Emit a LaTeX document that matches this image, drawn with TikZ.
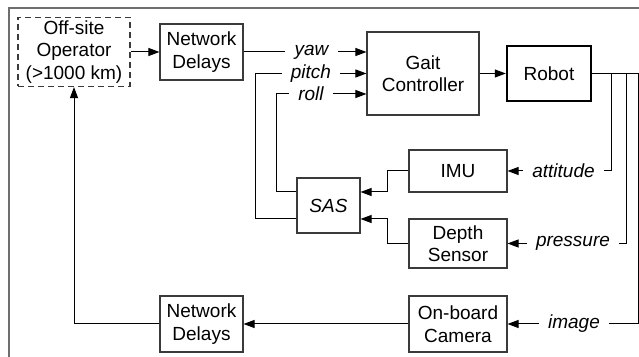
\documentclass[tikz,border=0pt]{standalone}
\usepackage{fontspec}
\setmainfont{Liberation Sans}
\usepackage{xcolor}
\usepackage{tikz}
\usetikzlibrary{arrows.meta, positioning}
\definecolor{framegray}{HTML}{6E6E6E}
\definecolor{linegray}{HTML}{3A3A3A}

\begin{document}
\begin{tikzpicture}[x=0.5pt, y=-0.5pt, >={Triangle[length=5.5pt, width=4pt]},
    font=\fontsize{9.5}{11.25}\selectfont,
    blockbox/.style={draw=linegray, line width=0.55pt, align=center, inner sep=1pt},
    sigtext/.style={font=\fontsize{9.5}{11.25}\selectfont\itshape, inner xsep=4.5pt, inner ysep=1pt},
    wire/.style={line width=0.5pt}]
    \useasboundingbox (0, 0) rectangle (639, 357);

    % Outer frame
    \draw[framegray, line width=1pt] (9, 360) -- (9, 8) -- (642, 8);

    % Blocks
    \node[blockbox, dashed, dash pattern=on 3pt off 2pt, minimum width=56pt, minimum height=34.5pt] (operator) at (74, 52) {Off-site\\Operator\\(>1000 km)};
    \node[blockbox, minimum width=41.5pt, minimum height=28pt] (netup) at (201.5, 52) {Network\\Delays};
    \node[blockbox, minimum width=56pt, minimum height=41.5pt] (gait) at (423, 73.5) {Gait\\Controller};
    \node[blockbox, draw=black, line width=1.2pt, minimum width=42pt, minimum height=27.5pt] (robot) at (549, 73.5) {Robot};
    \node[blockbox, minimum width=49pt, minimum height=21pt] (imu) at (458, 171) {IMU};
    \node[blockbox, minimum width=49pt, minimum height=24.5pt] (depth) at (458, 243.5) {Depth\\Sensor};
    \node[blockbox, minimum width=31.5pt, minimum height=27.5pt, font=\fontsize{9.5}{11.25}\selectfont\itshape] (sas) at (328.5, 205.5) {SAS};
    \node[blockbox, minimum width=49pt, minimum height=28pt] (camera) at (458, 324) {On-board\\Camera};
    \node[blockbox, minimum width=41.5pt, minimum height=28pt] (netdown) at (201.5, 324) {Network\\Delays};

    % Signal labels
    \node[sigtext] (yaw) at (311.5, 52) {yaw};
    \node[sigtext] (pitch) at (311, 73.5) {pitch};
    \node[sigtext] (roll) at (311, 94) {roll};
    \node[sigtext] (attitude) at (563.5, 171) {attitude};
    \node[sigtext] (pressure) at (573, 243.5) {pressure};
    \node[sigtext] (image) at (574, 324) {image};

    % Taps on the robot output
    \coordinate (tapatt) at (611, 73.5);
    \coordinate (tappres) at (626, 73.5);
    \coordinate (tapimg) at (638, 73.5);

    % Command path
    \draw[wire, ->] (operator.east) -- (netup.west);
    \draw[wire] (netup.east) -- (yaw.west);
    \draw[wire, ->] (yaw.east) -- (yaw -| gait.west);
    \draw[wire, ->] (pitch.east) -- (pitch -| gait.west);
    \draw[wire, ->] (roll.east) -- (roll -| gait.west);
    \draw[wire, ->] (gait) -- (robot);
    \draw[wire] (robot.east) -- (tapimg);

    % Sensor feedback
    \draw[wire] (attitude.east) -| (tapatt);
    \draw[wire] (pressure.east) -| (tappres);
    \draw[wire] (image.east) -| (tapimg);
    \draw[wire, ->] (attitude.west) -- (imu.east);
    \draw[wire, ->] (pressure.west) -- (depth.east);
    \draw[wire, ->] (image.west) -- (camera.east);

    % SAS loop
    \draw[wire, ->] (imu.west) -- ++(-21, 0) |- ([yshift=6.75pt]sas.east);
    \draw[wire, ->] (depth.west) -- ++(-21, 0) |- ([yshift=-6.75pt]sas.east);
    \draw[wire] ([yshift=6.75pt]sas.west) -- ++(-20, 0) |- (roll.west);
    \draw[wire] ([yshift=-6.75pt]sas.west) -- ++(-41, 0) |- (pitch.west);

    % Video back to operator
    \draw[wire, ->] (camera) -- (netdown);
    \draw[wire, ->] (netdown.west) -| (operator.south);
\end{tikzpicture}
\end{document}
